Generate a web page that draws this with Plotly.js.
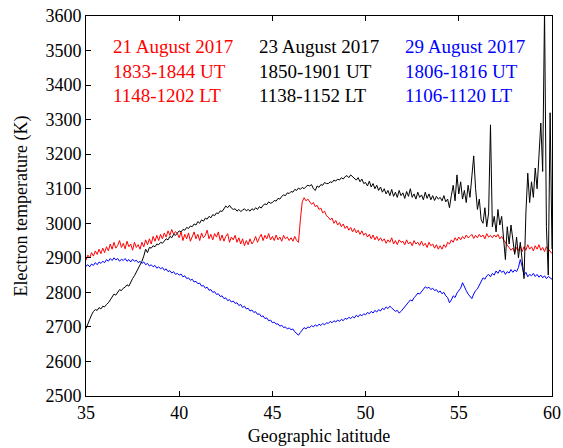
<!DOCTYPE html>
<html>
<head>
<meta charset="utf-8">
<script src="https://cdn.plot.ly/plotly-3.0.1.min.js"></script>
<style>html,body{margin:0;padding:0;background:#fff;}</style>
</head>
<body>
<div id="chart" style="width:563px;height:448px;"></div>
<script>
// Geographic latitude grid: 35.0 to 60.0 in steps of 0.1
const latStart = 35.0;
const latStep = 0.1;

// 21 August 2017 (red)
const te21Aug = [
  2893, 2908, 2900, 2915, 2905, 2920, 2910, 2925, 2912, 2928,
  2915, 2932, 2920, 2940, 2925, 2945, 2928, 2936, 2950, 2930,
  2942, 2926, 2948, 2932, 2940, 2922, 2945, 2930, 2938, 2925,
  2945, 2932, 2952, 2938, 2955, 2940, 2962, 2948, 2965, 2950,
  2968, 2955, 2972, 2960, 2978, 2965, 2982, 2968, 2976, 2970,
  2958, 2975, 2950, 2968, 2955, 2972, 2948, 2962, 2975, 2955,
  2968, 2950, 2972, 2958, 2965, 2980, 2955, 2968, 2952, 2970,
  2960, 2975, 2950, 2966, 2948, 2962, 2970, 2945, 2960, 2952,
  2965, 2945, 2958, 2940, 2955, 2935, 2950, 2938, 2955, 2940,
  2948, 2962, 2945, 2958, 2968, 2950, 2965, 2955, 2970, 2952,
  2962, 2950, 2966, 2952, 2960, 2948, 2965, 2955, 2960, 2950,
  2958, 2948, 2962, 2950, 2945, 3010, 3062, 3074, 3065, 3070,
  3062, 3055, 3060, 3048, 3052, 3040, 3044, 3030, 3035, 3022,
  3018, 3010, 3015, 3000, 3008, 2995, 3002, 2990, 2998, 2985,
  2992, 2980, 2988, 2975, 2985, 2972, 2980, 2968, 2978, 2965,
  2972, 2960, 2968, 2955, 2966, 2952, 2962, 2950, 2958, 2948,
  2955, 2942, 2952, 2945, 2958, 2940, 2950, 2938, 2952, 2945,
  2948, 2938, 2952, 2940, 2946, 2935, 2950, 2940, 2945, 2936,
  2948, 2935, 2942, 2930, 2945, 2935, 2940, 2928, 2938, 2925,
  2935, 2925, 2938, 2930, 2945, 2940, 2952, 2945, 2958, 2950,
  2960, 2952, 2962, 2955, 2966, 2958, 2962, 2968, 2956, 2965,
  2958, 2968, 2960, 2966, 2955, 2970, 2960, 2965, 2958, 2966,
  2960, 2968, 2955, 2962, 2952, 2945, 2938, 2930, 2922, 2928,
  2915, 2930, 2920, 2935, 2918, 2932, 2922, 2938, 2925, 2932,
  2920, 2935, 2925, 2938, 2922, 2930, 2918, 2932, 2925, 2920,
  2912
];

// 23 August 2017 (black)
const te23Aug = [
  2695, 2712, 2722, 2735, 2745, 2750, 2748, 2756, 2752, 2760,
  2758, 2765, 2770, 2778, 2786, 2795, 2792, 2800, 2808, 2805,
  2812, 2815, 2822, 2818, 2830, 2840, 2848, 2858, 2870, 2882,
  2890, 2905, 2925, 2915, 2930, 2928, 2935, 2932, 2940, 2938,
  2945, 2942, 2950, 2955, 2952, 2962, 2958, 2968, 2965, 2972,
  2978, 2975, 2982, 2980, 2988, 2985, 2992, 2990, 2998, 2995,
  3005, 3000, 3010, 3006, 3015, 3012, 3020, 3016, 3025, 3022,
  3030, 3028, 3036, 3034, 3042, 3050, 3045, 3052, 3044, 3040,
  3042, 3035, 3040, 3034, 3038, 3042, 3036, 3040, 3035, 3042,
  3038, 3045, 3040, 3048, 3044, 3052, 3056, 3054, 3062, 3058,
  3060, 3066, 3064, 3072, 3070, 3078, 3082, 3080, 3088, 3086,
  3092, 3090, 3098, 3095, 3102, 3098, 3104, 3100, 3106, 3110,
  3108, 3112, 3100, 3095, 3108, 3104, 3112, 3110, 3118, 3115,
  3115, 3120, 3118, 3125, 3122, 3128, 3125, 3132, 3128, 3135,
  3138, 3132, 3140, 3135, 3130, 3125, 3132, 3120, 3128, 3115,
  3118, 3108, 3122, 3105, 3115, 3100, 3110, 3095, 3105, 3090,
  3100, 3085, 3095, 3080, 3098, 3078, 3090, 3075, 3095, 3080,
  3088, 3072, 3092, 3078, 3100, 3075, 3085, 3070, 3090, 3075,
  3082, 3068, 3090, 3072, 3085, 3068, 3080, 3066, 3078, 3070,
  3075, 3065, 3080, 3062, 3070, 3045, 3080, 3110, 3065, 3140,
  3085, 3120, 3070, 3095, 3060, 3110, 3075, 3150, 3195, 3100,
  3040, 3070, 3010, 3000, 3045, 2990, 3030, 3285, 2990, 3020,
  2975, 3040, 2995, 3020, 2960, 2895, 2990, 2940, 2995, 2950,
  2910, 2960, 2900, 2945, 2880, 2840, 3030, 3145, 3060, 3120,
  3075, 3160, 3100, 3195, 3290, 3150, 3620, 2990, 2850, 3320,
  2925
];

// 29 August 2017 (blue)
const te29Aug = [
  2876, 2880, 2874, 2882, 2878, 2886, 2880, 2888, 2884, 2890,
  2886, 2895, 2890, 2898, 2892, 2900, 2894, 2898, 2890, 2896,
  2892, 2898, 2890, 2895, 2888, 2896, 2890, 2893, 2886, 2890,
  2884, 2888, 2880, 2884, 2876, 2880, 2874, 2878, 2870, 2874,
  2868, 2872, 2864, 2868, 2860, 2863, 2856, 2860, 2852, 2855,
  2850, 2853, 2845, 2848, 2840, 2842, 2835, 2838, 2830, 2832,
  2825, 2827, 2818, 2820, 2812, 2815, 2806, 2808, 2800, 2802,
  2794, 2796, 2788, 2790, 2782, 2784, 2776, 2779, 2772, 2775,
  2768, 2770, 2762, 2765, 2756, 2760, 2752, 2754, 2746, 2749,
  2742, 2744, 2736, 2738, 2730, 2732, 2724, 2726, 2718, 2720,
  2712, 2714, 2708, 2709, 2702, 2705, 2698, 2700, 2694, 2697,
  2692, 2694, 2686, 2680, 2676, 2684, 2690, 2698, 2694, 2700,
  2698, 2704, 2700, 2706, 2702, 2708, 2704, 2710, 2706, 2712,
  2710, 2716, 2712, 2718, 2714, 2720, 2716, 2722, 2718, 2725,
  2722, 2728, 2724, 2730, 2726, 2734, 2729, 2736, 2732, 2738,
  2735, 2742, 2738, 2745, 2740, 2748, 2743, 2750, 2746, 2754,
  2750, 2758, 2753, 2760, 2755, 2750, 2745, 2748, 2740, 2745,
  2752, 2758, 2765, 2770, 2778, 2775, 2785, 2790, 2798, 2795,
  2802, 2808, 2816, 2812, 2815, 2808, 2812, 2805, 2808, 2800,
  2804, 2796, 2800, 2790, 2785, 2770, 2778, 2790, 2785, 2798,
  2805, 2812, 2828, 2815, 2805, 2795, 2788, 2782, 2795, 2805,
  2810, 2822, 2835, 2842, 2838, 2848, 2852, 2845, 2855, 2850,
  2862, 2855, 2865, 2858, 2862, 2852, 2860, 2856, 2866, 2858,
  2865, 2860, 2872, 2895, 2875, 2850, 2858, 2845, 2852, 2848,
  2855, 2846, 2852, 2844, 2850, 2842, 2848, 2840, 2846, 2842,
  2838
];

const labels21 = ["21 August 2017", "1833-1844 UT", "1148-1202 LT"];
const labels23 = ["23 August 2017", "1850-1901 UT", "1138-1152 LT"];
const labels29 = ["29 August 2017", "1806-1816 UT", "1106-1120 LT"];

const xTicks = [35, 40, 45, 50, 55, 60];
const yTicks = [2500, 2600, 2700, 2800, 2900, 3000, 3100, 3200, 3300, 3400, 3500, 3600];

const FONT = "Liberation Serif, Times New Roman, serif";

function trace(y, color) {
  return {
    type: "scatter", mode: "lines",
    x0: latStart, dx: latStep, y: y,
    line: {color: color, width: 1},
    hoverinfo: "skip", showlegend: false
  };
}

const data = [
  trace(te29Aug, "#0000ff"),
  trace(te21Aug, "#ff0000"),
  trace(te23Aug, "#000000")
];

function block(lines, color, x) {
  return {
    xref: "paper", yref: "paper", x: x, y: 0.855,
    xanchor: "left", yanchor: "middle", align: "left",
    showarrow: false, text: lines.join("<br>"),
    font: {family: FONT, size: 19, color: color}
  };
}

const layout = {
  width: 563, height: 448,
  margin: {l: 86, r: 11, t: 16, b: 52},
  paper_bgcolor: "#ffffff", plot_bgcolor: "#ffffff",
  font: {family: FONT, size: 18, color: "#000"},
  xaxis: {
    range: [35, 60], tickvals: xTicks, ticktext: xTicks.map(String),
    ticks: "inside", ticklen: 5, tickwidth: 1, tickcolor: "#000",
    showline: true, linecolor: "#000", linewidth: 1, mirror: "ticks",
    showgrid: false, zeroline: false,
    tickfont: {family: FONT, size: 18, color: "#000"},
    title: {text: "Geographic latitude", font: {family: FONT, size: 18, color: "#000"}, standoff: 7}
  },
  yaxis: {
    range: [2500, 3600], tickvals: yTicks, ticktext: yTicks.map(String),
    ticks: "inside", ticklen: 5, tickwidth: 1, tickcolor: "#000",
    showline: true, linecolor: "#000", linewidth: 1, mirror: true,
    showgrid: false, zeroline: false,
    tickfont: {family: FONT, size: 18, color: "#000"},
    title: {text: "Electron temperature (K)", font: {family: FONT, size: 18, color: "#000"}, standoff: 13}
  },
  annotations: [
    block(labels21, "#ff0000", 0.054),
    block(labels23, "#000000", 0.367),
    block(labels29, "#0000ff", 0.680)
  ]
};

Plotly.newPlot("chart", data, layout, {displayModeBar: false, staticPlot: true});
</script>
</body>
</html>
